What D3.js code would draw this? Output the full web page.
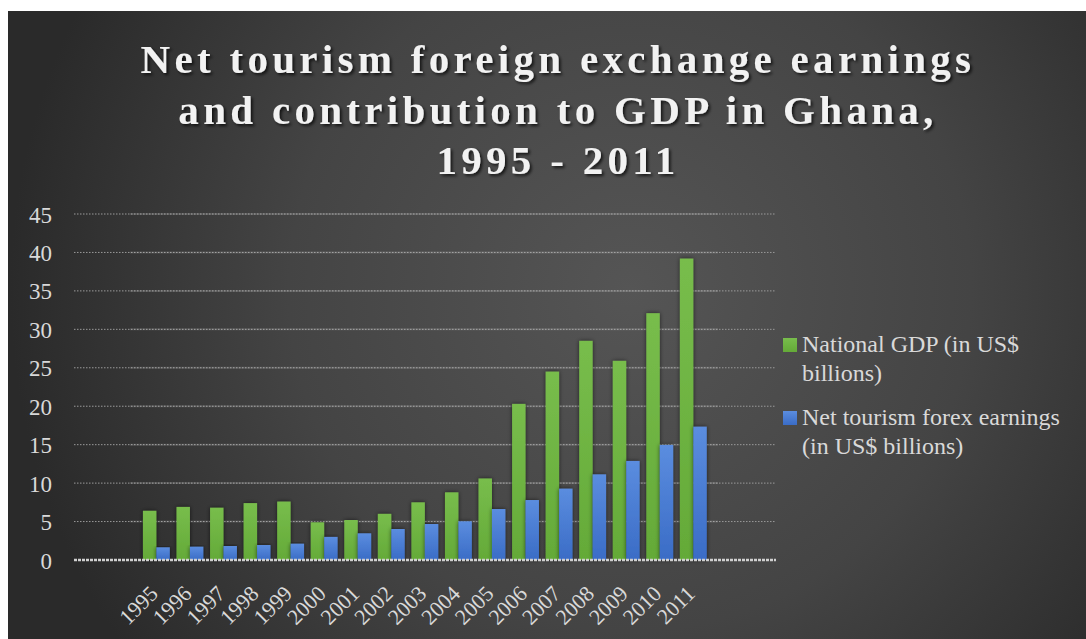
<!DOCTYPE html>
<html>
<head>
<meta charset="utf-8">
<script src="https://cdn.jsdelivr.net/npm/d3@7"></script>
<style>
  body { margin: 0; background: #fff; }
  svg { display: block; }
</style>
</head>
<body>
<svg id="chart" width="1086" height="639"></svg>
<script>
var years = ["1995", "1996", "1997", "1998", "1999", "2000", "2001", "2002", "2003",
    "2004", "2005", "2006", "2007", "2008", "2009", "2010", "2011"];
var gdp = [6.4, 6.9, 6.8, 7.4, 7.6, 4.9, 5.2, 6.0, 7.5, 8.8, 10.6, 20.3, 24.5, 28.5, 25.9, 32.1, 39.2];
var forex = [1.65, 1.73, 1.82, 1.95, 2.12, 3.0, 3.47, 4.03, 4.68, 5.03, 6.63, 7.8, 9.28, 11.14, 12.88, 14.96, 17.34];
var yTicks = [0, 5, 10, 15, 20, 25, 30, 35, 40, 45];
var seriesNames = ["National GDP (in US$ billions)", "Net tourism forex earnings (in US$ billions)"];
var legendLines = [["National GDP (in US$", "billions)"], ["Net tourism forex earnings", "(in US$ billions)"]];
var titleLines = ["Net tourism foreign exchange earnings", "and contribution to GDP in Ghana,", "1995 - 2011"];

var width = 1086;
var height = 639;
var serif = "'Liberation Serif', 'DejaVu Serif', serif";
var svg = d3.select("#chart");
var defs = svg.append("defs");

// background
var bg = defs.append("radialGradient")
    .attr("id", "bg")
    .attr("gradientUnits", "userSpaceOnUse")
    .attr("cx", 630).attr("cy", 290).attr("r", 620);
bg.append("stop").attr("offset", "0%").attr("stop-color", "#555555");
bg.append("stop").attr("offset", "55%").attr("stop-color", "#444444");
bg.append("stop").attr("offset", "100%").attr("stop-color", "#2a2a2a");

var gGreen = defs.append("linearGradient").attr("id", "gGreen")
    .attr("x1", 0).attr("y1", 0).attr("x2", 0).attr("y2", 1);
gGreen.append("stop").attr("offset", "0%").attr("stop-color", "#78bd4c");
gGreen.append("stop").attr("offset", "100%").attr("stop-color", "#64aa38");

var gBlue = defs.append("linearGradient").attr("id", "gBlue")
    .attr("x1", 0).attr("y1", 0).attr("x2", 0).attr("y2", 1);
gBlue.append("stop").attr("offset", "0%").attr("stop-color", "#5b8ddf");
gBlue.append("stop").attr("offset", "100%").attr("stop-color", "#3a6cc6");

var shadow = defs.append("filter").attr("id", "shadow")
    .attr("x", "-20%").attr("y", "-20%").attr("width", "140%").attr("height", "140%");
shadow.append("feDropShadow")
    .attr("dx", 2).attr("dy", 2).attr("stdDeviation", 1.5)
    .attr("flood-color", "#000").attr("flood-opacity", 0.7);

var barShadow = defs.append("filter").attr("id", "barShadow")
    .attr("x", "-50%").attr("y", "-10%").attr("width", "200%").attr("height", "120%");
barShadow.append("feDropShadow")
    .attr("dx", 0).attr("dy", 0).attr("stdDeviation", 2)
    .attr("flood-color", "#000").attr("flood-opacity", 0.6);

svg.append("rect")
    .attr("x", 8).attr("y", 11)
    .attr("width", width - 8).attr("height", height - 11)
    .attr("fill", "url(#bg)");

// title
var title = svg.append("g").attr("filter", "url(#shadow)");
title.selectAll("text")
    .data(titleLines)
    .enter().append("text")
    .attr("x", 558)
    .attr("y", function(d, i) { return 73 + i * 50.5; })
    .attr("text-anchor", "middle")
    .attr("fill", "#f2f2f2")
    .style("font-family", serif)
    .style("font-weight", "bold")
    .style("font-size", "41px")
    .style("letter-spacing", "4.3px")
    .text(function(d) { return d; });

// scales
var y = d3.scaleLinear().domain([0, 45]).range([560, 214]);
var x = d3.scaleBand().domain(years).range([139.6, 710.1]).paddingInner(0.2).paddingOuter(0.1);
var xs = d3.scaleBand().domain([0, 1]).range([0, x.bandwidth()]);

// gridlines
var grid = svg.append("g");
grid.selectAll("line.dot")
    .data(yTicks.slice(1))
    .enter().append("line")
    .attr("x1", 74).attr("x2", 776)
    .attr("y1", function(d) { return y(d); })
    .attr("y2", function(d) { return y(d); })
    .attr("stroke", "#9a9a9a")
    .attr("stroke-width", 1)
    .attr("stroke-dasharray", "1.5,1.5");
grid.selectAll("line.solid")
    .data(yTicks.slice(1))
    .enter().append("line")
    .attr("x1", 130).attr("x2", 718)
    .attr("y1", function(d) { return y(d); })
    .attr("y2", function(d) { return y(d); })
    .attr("stroke", "#ffffff")
    .attr("stroke-opacity", 0.13)
    .attr("stroke-width", 2);

// y axis
var yAxis = svg.append("g")
    .attr("transform", "translate(52,0)")
    .call(d3.axisLeft(y).tickValues(yTicks).tickSize(0).tickPadding(0));
yAxis.select(".domain").remove();
yAxis.selectAll("text")
    .attr("fill", "#d9d9d9")
    .attr("dy", "0.35em")
    .style("font-family", serif)
    .style("font-size", "23px");

// bars
var groups = svg.append("g").selectAll("g")
    .data(years)
    .enter().append("g")
    .attr("transform", function(d) { return "translate(" + x(d) + ",0)"; });

groups.append("rect")
    .attr("x", xs(0))
    .attr("y", function(d, i) { return y(gdp[i]); })
    .attr("width", xs.bandwidth())
    .attr("height", function(d, i) { return y(0) - y(gdp[i]); })
    .attr("fill", "url(#gGreen)")
    .attr("filter", "url(#barShadow)");

groups.append("rect")
    .attr("x", xs(1))
    .attr("y", function(d, i) { return y(forex[i]); })
    .attr("width", xs.bandwidth())
    .attr("height", function(d, i) { return y(0) - y(forex[i]); })
    .attr("fill", "url(#gBlue)")
    .attr("filter", "url(#barShadow)");

// zero line
svg.append("line")
    .attr("x1", 74).attr("x2", 776)
    .attr("y1", y(0)).attr("y2", y(0))
    .attr("stroke", "#d0d0d0")
    .attr("stroke-width", 2.5)
    .attr("stroke-dasharray", "3,1");

// x axis
var xAxis = svg.append("g")
    .attr("transform", "translate(0," + y(0) + ")")
    .call(d3.axisBottom(x).tickSize(0).tickPadding(0));
xAxis.select(".domain").remove();
xAxis.selectAll("text")
    .attr("fill", "#d9d9d9")
    .attr("text-anchor", "end")
    .attr("y", 0)
    .attr("dy", 0)
    .attr("transform", "translate(3,35) rotate(-45)")
    .style("font-family", serif)
    .style("font-size", "22px");

// legend
var legendFills = ["url(#gGreen)", "url(#gBlue)"];
var legend = svg.append("g").selectAll("g")
    .data(seriesNames)
    .enter().append("g")
    .attr("transform", function(d, i) { return "translate(783," + (338 + i * 73) + ")"; });
legend.append("rect")
    .attr("width", 14).attr("height", 14)
    .attr("fill", function(d, i) { return legendFills[i]; });
legend.each(function(d, i) {
    d3.select(this).selectAll("text")
        .data(legendLines[i])
        .enter().append("text")
        .attr("x", 19)
        .attr("y", function(t, j) { return 14 + j * 28.5; })
        .attr("fill", "#d9d9d9")
        .style("font-family", serif)
        .style("font-size", "24px")
        .text(function(t) { return t; });
});
</script>
</body>
</html>
